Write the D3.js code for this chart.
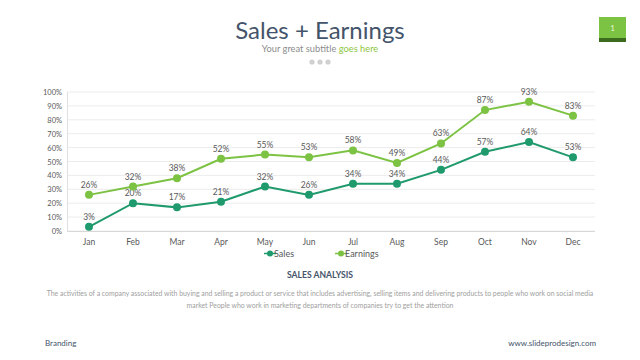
<!DOCTYPE html>
<html><head><meta charset="utf-8">
<script src="https://cdn.jsdelivr.net/npm/d3@7"></script>
<style>body{margin:0;background:#fff;}svg{display:block;font-family:Lato,"Open Sans",sans-serif;}</style>
</head><body>
<svg id="c" width="640" height="360"></svg>
<script>
const months = ["Jan","Feb","Mar","Apr","May","Jun","Jul","Aug","Sep","Oct","Nov","Dec"];
const sales = [3,20,17,21,32,26,34,34,44,57,64,53];
const earnings = [26,32,38,52,55,53,58,49,63,87,93,83];
const yTicks = [0,10,20,30,40,50,60,70,80,90,100];
const seriesNames = ["Sales","Earnings"];
const colors = ["#1f9a6c","#7cc243"];

const svg = d3.select("#c");
const x = d3.scaleBand().domain(months).range([67,595]);
const y = d3.scaleLinear().domain([0,100]).range([231,92]);

// title
svg.append("text").attr("x",320).attr("y",39).attr("text-anchor","middle")
  .attr("font-size",24).attr("fill","#44546a").text("Sales + Earnings");
const sub = svg.append("text").attr("x",320).attr("y",52).attr("text-anchor","middle")
  .attr("font-size",9.3).attr("fill","#8c8c8c");
sub.append("tspan").text("Your great subtitle ");
sub.append("tspan").attr("fill","#8dc63f").text("goes here");
[-8,0,8].forEach(d=>svg.append("circle").attr("cx",320+d).attr("cy",62).attr("r",2.6).attr("fill","#d0d0d0"));

// page box
svg.append("rect").attr("x",599).attr("y",17).attr("width",27).attr("height",25).attr("fill","#7cc243");
svg.append("rect").attr("x",599).attr("y",38).attr("width",27).attr("height",4).attr("fill","#3d6b1e");
svg.append("text").attr("x",612.5).attr("y",31).attr("text-anchor","middle").attr("font-size",8).attr("fill","#e8f5d8").text("1");

// grid
svg.append("g").selectAll("line").data(yTicks).join("line")
  .attr("x1",67).attr("x2",595).attr("y1",d=>y(d)).attr("y2",d=>y(d))
  .attr("stroke","#ececec").attr("stroke-width",1);
svg.append("line").attr("x1",67.5).attr("x2",67.5).attr("y1",92).attr("y2",231).attr("stroke","#e0e0e0");
svg.append("line").attr("x1",67).attr("x2",595).attr("y1",231.5).attr("y2",231.5).attr("stroke","#d8d8d8");

// y labels
svg.append("g").selectAll("text").data(yTicks).join("text")
  .attr("x",62).attr("y",d=>y(d)+3).attr("text-anchor","end")
  .attr("font-size",7.5).attr("fill","#595959").text(d=>d+"%");
// x labels
svg.append("g").selectAll("text").data(months).join("text")
  .attr("x",d=>x(d)+x.bandwidth()/2).attr("y",245).attr("text-anchor","middle")
  .attr("font-size",8.5).attr("fill","#595959").text(d=>d);

const cx = (d,i)=>x(months[i])+x.bandwidth()/2;
[sales,earnings].forEach((data,k)=>{
  const line = d3.line().x(cx).y(d=>y(d));
  svg.append("path").datum(data).attr("d",line).attr("fill","none")
    .attr("stroke",colors[k]).attr("stroke-width",2);
  svg.append("g").selectAll("circle").data(data).join("circle")
    .attr("cx",cx).attr("cy",d=>y(d)).attr("r",4).attr("fill",colors[k]);
  svg.append("g").selectAll("text").data(data).join("text")
    .attr("x",cx).attr("y",d=>y(d)-7).attr("text-anchor","middle")
    .attr("font-size",8.5).attr("fill","#595959").text(d=>d+"%");
});

// legend
const lg = [[270,seriesNames[0]],[341,seriesNames[1]]];
lg.forEach(([lx,name],k)=>{
  svg.append("line").attr("x1",lx-6).attr("x2",lx+6).attr("y1",253.5).attr("y2",253.5).attr("stroke",colors[k]).attr("stroke-width",1.5);
  svg.append("circle").attr("cx",lx).attr("cy",253.5).attr("r",3).attr("fill",colors[k]);
  svg.append("text").attr("x",lx+4).attr("y",257).attr("font-size",9).attr("fill","#595959").text(name);
});

// bottom texts
svg.append("text").attr("x",320).attr("y",278).attr("text-anchor","middle")
  .attr("font-size",8.6).attr("font-weight","bold").attr("fill","#44546a").text("SALES ANALYSIS");
svg.append("text").attr("x",320).attr("y",296).attr("text-anchor","middle")
  .attr("font-size",6.9).attr("fill","#a0a0a0")
  .text("The activities of a company associated with buying and selling a product or service that includes advertising, selling items and delivering products to people who work on social media");
svg.append("text").attr("x",320).attr("y",308).attr("text-anchor","middle")
  .attr("font-size",6.9).attr("fill","#a0a0a0")
  .text("market People who work in marketing departments of companies try to get the attention");
svg.append("text").attr("x",45).attr("y",346).attr("font-size",8).attr("fill","#44546a").text("Branding");
svg.append("text").attr("x",596).attr("y",346).attr("text-anchor","end").attr("font-size",8).attr("fill","#44546a").text("www.slideprodesign.com");
</script>
</body></html>
